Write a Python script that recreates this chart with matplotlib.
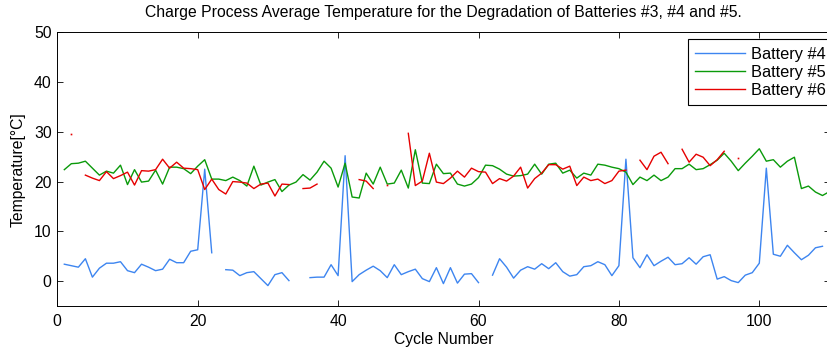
import matplotlib
matplotlib.use('Agg')
import matplotlib.pyplot as plt
import numpy as np

nan = np.nan

# average charge temperature per cycle
cyc_b4 = np.arange(1, 110)
temp_b4 = [3.4, 3.1, 2.8, 4.5, 0.8, 2.6, 3.6, 3.6, 3.9, 2.1,
           1.7, 3.4, 2.8, 2.1, 2.4, 4.4, 3.7, 3.7, 6.0, 6.3,
           22.5, 5.7, nan, 2.3, 2.2, 1.1, 1.7, 1.9, 0.5, -0.9,
           1.3, 1.7, 0.1, nan, nan, 0.7, 0.8, 0.8, 3.3, 1.1,
           25.2, -0.1, 1.3, 2.2, 3.0, 2.1, 0.7, 3.3, 1.3, 1.9,
           2.4, 0.5, -0.1, 2.7, -0.5, 2.7, -0.4, 1.4, 1.5, -0.3,
           nan, 1.2, 4.5, 2.8, 0.6, 2.2, 2.9, 2.4, 3.5, 2.5,
           3.7, 1.9, 1.0, 1.3, 2.9, 3.1, 3.9, 3.3, 1.1, 3.1,
           24.5, 4.7, 2.7, 5.3, 3.1, 4.0, 4.8, 3.3, 3.5, 4.7,
           3.4, 4.9, 5.3, 0.4, 0.9, 0.1, -0.3, 1.2, 1.7, 3.6,
           22.7, 5.4, 5.0, 7.2, 5.7, 4.3, 5.2, 6.7, 7.0]

cyc_b5 = np.arange(1, 111)
temp_b5 = [22.4, 23.6, 23.7, 24.1, 22.7, 21.3, 22.1, 21.7, 23.3, 19.4,
           22.4, 19.9, 20.1, 22.3, 19.5, 22.9, 22.9, 22.6, 21.6, 23.1,
           24.4, 20.5, 20.5, 20.2, 20.9, 20.2, 19.1, 23.1, 19.3, 19.9,
           20.4, 18.0, 19.3, 19.9, 21.4, 20.3, 21.9, 24.1, 22.7, 18.9,
           23.7, 16.9, 16.7, 21.7, 19.5, 22.9, 19.5, 19.7, 22.3, 18.7,
           26.4, 19.7, 19.6, 23.5, 21.6, 21.7, 19.5, 19.1, 19.5, 20.8,
           23.3, 23.2, 22.5, 21.5, 21.1, 21.2, 21.5, 23.5, 21.5, 23.5,
           23.7, 21.7, 22.3, 20.7, 21.7, 21.3, 23.5, 23.3, 22.9, 22.6,
           21.9, 19.4, 20.9, 20.2, 21.3, 20.2, 20.9, 22.6, 22.6, 23.5,
           22.4, 22.6, 23.4, 24.3, 25.7, 24.1, 22.2, 23.7, 25.1, 26.6,
           24.1, 24.4, 22.9, 24.1, 24.9, 18.6, 19.1, 17.9, 17.2, 18.0]

cyc_b6 = np.arange(1, 98)
temp_b6 = [nan, 29.6, nan, 21.3, 20.7, 20.2, 22.0, 20.6, 21.2, 21.9,
           19.3, 22.2, 22.1, 22.4, 24.5, 22.7, 23.9, 22.7, 22.6, 22.4,
           18.4, 20.5, 18.4, 17.5, 20.0, 19.9, 19.7, 18.6, 19.5, 19.7,
           17.1, 19.5, 19.4, nan, 18.6, 18.7, 19.5, nan, nan, nan,
           nan, nan, 20.4, 20.1, 18.6, nan, 19.3, nan, nan, 29.7,
           19.2, 20.1, 25.7, 19.9, 19.6, 20.7, 22.1, 20.9, 22.7, 22.0,
           21.9, 19.6, 20.6, 20.1, 21.1, 22.9, 18.7, 20.6, 21.7, 23.4,
           23.4, 22.5, 23.1, 19.2, 20.9, 20.2, 20.5, 19.6, 20.2, 22.1,
           22.3, nan, 24.3, 22.4, 25.1, 25.9, 23.6, nan, 26.5, 23.9,
           25.5, 24.9, 23.2, 24.4, 26.1, nan, 24.8]

labels = ['Battery #4', 'Battery #5', 'Battery #6']
colors = ['#3d85f0', '#0a9a0a', '#e60000']

plt.rcParams['font.family'] = ['Liberation Sans', 'DejaVu Sans']
fs = 11.3

W, H = 827, 351
fig = plt.figure(figsize=(W / 100, H / 100), dpi=100)
# axes runs slightly past the right edge, like the cropped original
left, top, bottom, right = 57.3, 32.3, 306.0, 829.5
ax = fig.add_axes([left / W, 1 - bottom / H, (right - left) / W, (bottom - top) / H])

series = [(cyc_b4, temp_b4), (cyc_b5, temp_b5), (cyc_b6, temp_b6)]
for (x, y), lab, c in zip(series, labels, colors):
    y = np.array(y, dtype=float)
    ax.plot(x, y, color=c, lw=1.0, label=lab)
    # single points between gaps show up as small dots
    prev = np.r_[nan, y[:-1]]
    nxt = np.r_[y[1:], nan]
    lone = ~np.isnan(y) & np.isnan(prev) & np.isnan(nxt)
    if lone.any():
        ax.plot(x[lone], y[lone], ls='none', marker='s', ms=1.2, color=c, mew=0)

ax.set_xlim(0, 110)
ax.set_ylim(-5, 50)
ax.set_xticks([0, 20, 40, 60, 80, 100])
ax.set_yticks([0, 10, 20, 30, 40, 50])
ax.tick_params(direction='in', length=4.5, width=0.6, top=True, right=True,
               labelsize=fs, pad=4)
ax.tick_params(axis='x', pad=6)
for s in ax.spines.values():
    s.set_linewidth(0.7)

ax.set_title('Charge Process Average Temperature for the Degradation of Batteries #3, #4 and #5.',
             fontsize=fs, pad=11)
ax.set_xlabel('Cycle Number', fontsize=fs, labelpad=2)
ax.set_ylabel('Temperature[°C]', fontsize=fs, labelpad=6)

leg = ax.legend(loc='upper left', bbox_to_anchor=(688 / W, 1 - 39.3 / H),
                bbox_transform=fig.transFigure, borderaxespad=0,
                fancybox=False, framealpha=1, edgecolor='black',
                fontsize=11.8, handlelength=3.0, handletextpad=0.4,
                labelspacing=0.18, borderpad=0.45)
leg.get_frame().set_linewidth(0.8)

fig.savefig('out.png', dpi=100)
